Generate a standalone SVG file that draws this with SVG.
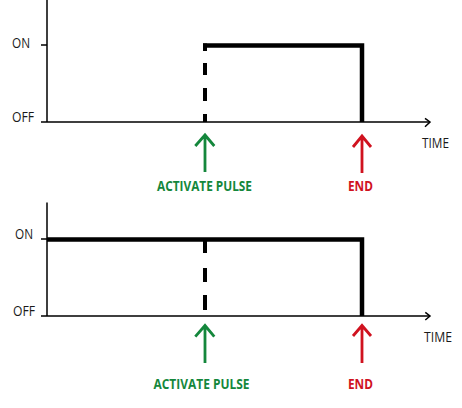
<svg xmlns="http://www.w3.org/2000/svg" width="462" height="408" viewBox="0 0 462 408">
<style>
.axis{stroke:#000;stroke-width:1.5;fill:none}
.sig{stroke:#000;stroke-width:4.5;fill:none;stroke-linecap:butt}
.dash{stroke:#000;stroke-width:4;fill:none}
.ga{stroke:#14873c;stroke-width:2.8;fill:none}
.ra{stroke:#d0121f;stroke-width:2.8;fill:none}
.lbl{font-family:"Open Sans","Liberation Sans",sans-serif;font-size:14px;fill:#1a1a1a}
.gl{font-family:"Open Sans","Liberation Sans",sans-serif;font-size:14.5px;font-weight:bold;fill:#14873c}
.rl{font-family:"Open Sans","Liberation Sans",sans-serif;font-size:14.5px;font-weight:bold;fill:#d0121f}
</style>
<rect width="462" height="408" fill="#fff"/>
<g id="chart-top">
  <g id="axes-top">
    <path class="axis" d="M47,0 V122 H430 M41,45 H47 M41,122 H47"/>
    <path class="axis" d="M425,118.3 L430,122 L425,126.7"/>
  </g>
  <text class="lbl" x="12" y="48" textLength="18" lengthAdjust="spacingAndGlyphs">ON</text>
  <text class="lbl" x="12" y="122" textLength="22" lengthAdjust="spacingAndGlyphs">OFF</text>
  <text class="lbl" x="422" y="148" textLength="27" lengthAdjust="spacingAndGlyphs">TIME</text>
  <g id="signal-top">
    <path class="sig" d="M203,45.5 H362 V122"/>
    <path class="dash" d="M205,43.5 V51 M205,63 V75 M205,88 V101 M205,114 V122"/>
  </g>
  <g id="activate-top">
    <path class="ga" d="M205,172 V135 M195.3,146 L205,135 L214.3,146"/>
    <text class="gl" x="157" y="190.5" textLength="95" lengthAdjust="spacingAndGlyphs">ACTIVATE PULSE</text>
  </g>
  <g id="end-top">
    <path class="ra" d="M362,173 V136 M353,147 L362,136 L371,147"/>
    <text class="rl" x="348" y="190.5" textLength="25" lengthAdjust="spacingAndGlyphs">END</text>
  </g>
</g>
<g id="chart-bottom">
  <g id="axes-bottom">
    <path class="axis" d="M47,202.5 V316 H430 M41,239 H47 M41,316 H47"/>
    <path class="axis" d="M425.3,312.3 L430,316 L425.3,320"/>
  </g>
  <text class="lbl" x="15" y="239" textLength="18" lengthAdjust="spacingAndGlyphs">ON</text>
  <text class="lbl" x="13" y="316" textLength="22" lengthAdjust="spacingAndGlyphs">OFF</text>
  <text class="lbl" x="424" y="342" textLength="28" lengthAdjust="spacingAndGlyphs">TIME</text>
  <g id="signal-bottom">
    <path class="sig" d="M47,239.5 H362 V316"/>
    <path class="dash" d="M205,241 V253 M205,268 V282 M205,295 V310"/>
  </g>
  <g id="activate-bottom">
    <path class="ga" d="M205,363 V325.5 M195.3,336.7 L205,325.5 L214.3,336.7"/>
    <text class="gl" x="153.5" y="389" textLength="96" lengthAdjust="spacingAndGlyphs">ACTIVATE PULSE</text>
  </g>
  <g id="end-bottom">
    <path class="ra" d="M362,363 V325.5 M353,336 L362,325.5 L371,336"/>
    <text class="rl" x="348" y="388.5" textLength="25" lengthAdjust="spacingAndGlyphs">END</text>
  </g>
</g>
</svg>
